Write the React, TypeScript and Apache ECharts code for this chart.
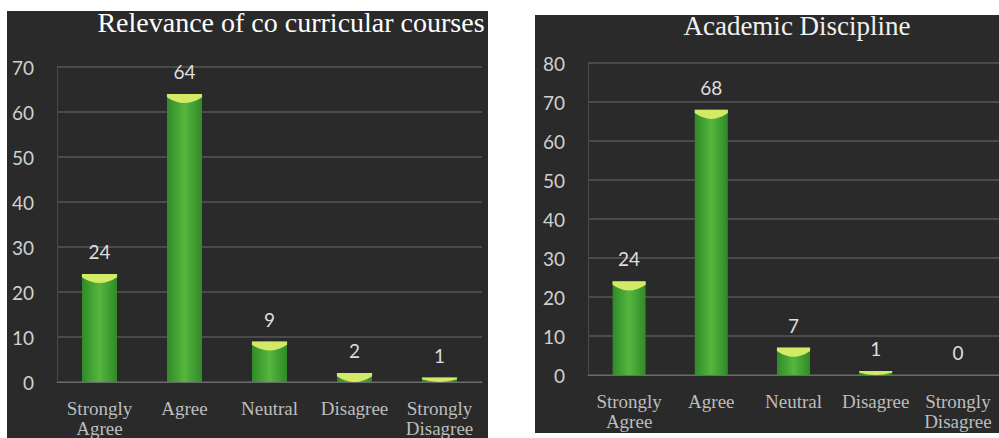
import React, { useEffect, useRef } from "react";
import * as echarts from "echarts";

// Survey responses shown in both panels
const categories = ["Strongly\nAgree", "Agree", "Neutral", "Disagree", "Strongly\nDisagree"];
const relevanceValues = [24, 64, 9, 2, 1];
const disciplineValues = [24, 68, 7, 1, 0];
const relevanceTitle = "Relevance of co curricular courses";
const disciplineTitle = "Academic Discipline";
const relevanceMax = 70;
const disciplineMax = 80;
const tickStep = 10;

const PANEL = "#2a2a2a";
const GRID_LINE = "#575757";
const CAP = "#d2ea66";
const CAP_PATH = "path://M0,0 L100,0 L100,25 Q50,110 0,25 Z";

const barFill = new echarts.graphic.LinearGradient(0, 0, 1, 0, [
  { offset: 0, color: "#2f8a28" },
  { offset: 0.5, color: "#56b63e" },
  { offset: 1, color: "#2f8a28" },
]);

type Panel = {
  idx: number;
  values: number[];
  max: number;
  gridLeft: number;
  gridTop: number;
  gridWidth: number;
  gridHeight: number;
  barWidth: number;
};

function buildPanel(p: Panel) {
  const pxPerUnit = p.gridHeight / p.max;
  const grid = {
    left: p.gridLeft,
    top: p.gridTop,
    width: p.gridWidth,
    height: p.gridHeight,
    containLabel: false,
  };
  const xAxis = {
    type: "category",
    gridIndex: p.idx,
    data: categories,
    axisTick: { show: false },
    axisLine: { show: true, lineStyle: { color: "#6a6a6a", width: 1 } },
    axisLabel: {
      color: "#bdbdbd",
      fontFamily: "Liberation Serif",
      fontSize: 19,
      lineHeight: 20,
      margin: 16,
      interval: 0,
    },
  };
  const yAxis = {
    type: "value",
    gridIndex: p.idx,
    min: 0,
    max: p.max,
    interval: tickStep,
    axisLine: { show: true, lineStyle: { color: "#4a4a4a" } },
    axisTick: { show: false },
    splitLine: { show: true, lineStyle: { color: GRID_LINE, width: 1.5 } },
    axisLabel: {
      color: "#d0d0d0",
      fontFamily: "Lato",
      fontSize: 19,
      margin: 23,
    },
  };
  const bars = {
    type: "bar",
    xAxisIndex: p.idx,
    yAxisIndex: p.idx,
    data: p.values,
    barWidth: p.barWidth,
    z: 2,
    itemStyle: { color: barFill },
    label: {
      show: true,
      position: "top",
      distance: 13,
      color: "#dedede",
      fontFamily: "Lato",
      fontSize: 19,
    },
  };
  // Lens-shaped highlight sitting on top of each bar
  const caps = {
    type: "pictorialBar",
    xAxisIndex: p.idx,
    yAxisIndex: p.idx,
    symbol: CAP_PATH,
    symbolPosition: "end",
    z: 3,
    silent: true,
    data: p.values.map((v) => {
      const h = Math.min(9, v * pxPerUnit);
      return {
        value: v,
        symbolSize: v > 0 ? [p.barWidth, h] : [0, 0],
      };
    }),
    itemStyle: { color: CAP },
  };
  return { grid, xAxis, yAxis, series: [bars, caps] };
}

export default function App() {
  const ref = useRef<HTMLDivElement>(null);

  useEffect(() => {
    if (!ref.current) return;
    const chart = echarts.init(ref.current, null, { renderer: "svg" });

    const left = buildPanel({
      idx: 0,
      values: relevanceValues,
      max: relevanceMax,
      gridLeft: 57,
      gridTop: 67,
      gridWidth: 425,
      gridHeight: 318,
      barWidth: 35,
    });
    const right = buildPanel({
      idx: 1,
      values: disciplineValues,
      max: disciplineMax,
      gridLeft: 588,
      gridTop: 63,
      gridWidth: 417,
      gridHeight: 312,
      barWidth: 33,
    });

    chart.setOption({
      animation: false,
      backgroundColor: "#ffffff",
      graphic: [
        {
          type: "rect",
          z: -10,
          shape: { x: 7, y: 11, width: 481, height: 427 },
          style: { fill: PANEL },
        },
        {
          type: "rect",
          z: -10,
          shape: { x: 535, y: 15, width: 464, height: 418 },
          style: { fill: PANEL },
        },
        {
          type: "text",
          z: 10,
          x: 291,
          y: 22,
          style: {
            text: relevanceTitle,
            fill: "#ffffff",
            font: "28px 'Liberation Serif'",
            align: "center",
            verticalAlign: "middle",
          },
        },
        {
          type: "text",
          z: 10,
          x: 797,
          y: 26,
          style: {
            text: disciplineTitle,
            fill: "#f0f0f0",
            font: "27px 'Liberation Serif'",
            align: "center",
            verticalAlign: "middle",
          },
        },
      ],
      grid: [left.grid, right.grid],
      xAxis: [left.xAxis, right.xAxis],
      yAxis: [left.yAxis, right.yAxis],
      series: [...left.series, ...right.series],
    } as any);

    return () => chart.dispose();
  }, []);

  return (
    <div
      ref={ref}
      style={{ position: "fixed", left: 0, top: 0, width: 999, height: 438 }}
    />
  );
}
